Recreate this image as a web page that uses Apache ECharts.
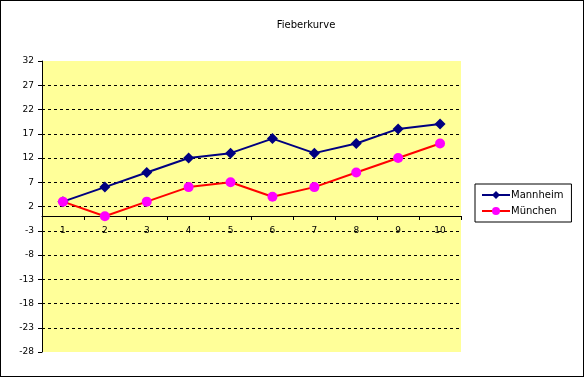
<!DOCTYPE html>
<html><head><meta charset="utf-8">
<script src="https://cdn.jsdelivr.net/npm/echarts@6/dist/echarts.min.js"></script>
<style>html,body{margin:0;padding:0;background:#fff}#c{position:absolute;left:0;top:0;width:582px;height:375px;border:1px solid #000}</style>
</head><body><div id="c"></div>
<script>
const categories = ['1','2','3','4','5','6','7','8','9','10'];
const mannheim = [3, 6, 9, 12, 13, 16, 13, 15, 18, 19];
const muenchen = [3, 0, 3, 6, 7, 4, 6, 9, 12, 15];
const yTicks = [-28, -23, -18, -13, -8, -3, 2, 7, 12, 17, 22, 27, 32];
const yMin = -28, yMax = 32;
const font = 'DejaVu Sans';
const gridTop = 60, gridBottom = 24, chartH = 375;
const plotH = chartH - gridTop - gridBottom;
const zeroOffset = -Math.round(plotH * (0 - yMin) / (yMax - yMin));
const chart = echarts.init(document.getElementById('c'));
chart.setOption({
  animation: false,
  backgroundColor: '#fff',
  title: { text: 'Fieberkurve', left: 300, top: 14, textAlign: 'center',
    textStyle: { fontFamily: font, fontSize: 10, fontWeight: 'normal', color: '#000' } },
  legend: { orient: 'vertical', left: 474, top: 183, width: 100, padding: [6, 8, 6, 6],
    itemGap: 6, itemWidth: 28, itemHeight: 10, borderColor: '#000', borderWidth: 1, backgroundColor: '#fff',
    textStyle: { fontFamily: font, fontSize: 10, color: '#000', padding: [0, 0, 0, -4] },
    data: ['Mannheim', 'München'] },
  grid: { left: 41, right: 122, top: gridTop, bottom: gridBottom, show: true, backgroundColor: '#ffff99', borderWidth: 0 },
  xAxis: { type: 'category', data: categories, boundaryGap: true, position: 'bottom', offset: zeroOffset,
    axisLine: { onZero: false, lineStyle: { color: '#000', width: 1 } },
    axisTick: { show: true, inside: false, length: 4, lineStyle: { color: '#000' } },
    axisLabel: { fontFamily: font, fontSize: 9, color: '#000', margin: 10 },
    splitLine: { show: false } },
  yAxis: { type: 'value', min: yMin, max: yMax,
    axisLine: { show: true, lineStyle: { color: '#000', width: 1 } },
    axisTick: { show: true, length: 4, lineStyle: { color: '#000' }, customValues: yTicks },
    axisLabel: { fontFamily: font, fontSize: 9, color: '#000', margin: 8, customValues: yTicks },
    splitLine: { show: true, showMinLine: false, showMaxLine: false, lineStyle: { color: '#000', type: [3, 3], width: 1 } } },
  series: [
    { name: 'Mannheim', type: 'line', data: mannheim, symbol: 'diamond', symbolSize: 11,
      lineStyle: { color: '#000080', width: 2 }, itemStyle: { color: '#000080' } },
    { name: 'München', type: 'line', data: muenchen, symbol: 'circle', symbolSize: 10,
      lineStyle: { color: '#ff0000', width: 2 }, itemStyle: { color: '#ff00ff' } }
  ]
});
</script></body></html>
